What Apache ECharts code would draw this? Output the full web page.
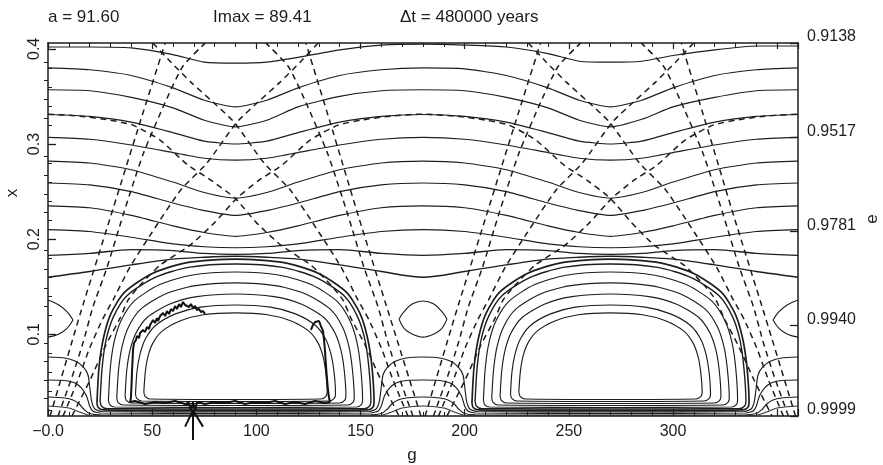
<!DOCTYPE html>
<html>
<head>
<meta charset="utf-8">
<script src="https://cdn.jsdelivr.net/npm/echarts@6/dist/echarts.min.js"></script>
<style>html,body{margin:0;padding:0;background:#fff}#chart{width:883px;height:465px}</style>
</head>
<body>
<div id="chart"></div>
<script>
// ---- right-hand e ticks (x = sqrt(1 - e^2)) ----
const eTicks = [0.9999, 0.9940, 0.9781, 0.9517, 0.9138];
const eTickLabels = ['0.9999', '0.9940', '0.9781', '0.9517', '0.9138'];
const xTicks = [0.1, 0.2, 0.3, 0.4];
const gTicks = [0, 50, 100, 150, 200, 250, 300, 350];

// ---- circulating level curves, sampled on a common g grid ----
const gGrid = [0,20,40,60,75,90,105,120,140,160,180,200,220,240,255,270,285,300,320,340,360];
const levelA = [0.402,0.402,0.401,0.394,0.386,0.385,0.386,0.391,0.399,0.404,0.405,0.404,0.402,0.395,0.387,0.386,0.387,0.393,0.399,0.403,0.403];
const levelB = [0.380,0.378,0.372,0.359,0.346,0.339,0.346,0.359,0.372,0.378,0.380,0.379,0.372,0.359,0.346,0.339,0.346,0.359,0.372,0.378,0.380];
const levelC = [0.357,0.356,0.349,0.338,0.325,0.318,0.325,0.339,0.350,0.356,0.357,0.356,0.349,0.338,0.325,0.318,0.326,0.339,0.349,0.356,0.357];
const levelD = [0.331,0.329,0.323,0.312,0.303,0.300,0.303,0.312,0.323,0.329,0.331,0.329,0.323,0.312,0.303,0.300,0.303,0.312,0.323,0.329,0.331];
const levelE = [0.307,0.305,0.299,0.291,0.285,0.283,0.285,0.291,0.299,0.305,0.307,0.305,0.299,0.291,0.285,0.283,0.285,0.291,0.299,0.305,0.307];
const levelF = [0.282,0.280,0.273,0.260,0.249,0.243,0.249,0.260,0.273,0.280,0.282,0.280,0.273,0.260,0.249,0.243,0.249,0.260,0.273,0.280,0.282];
const levelG = [0.259,0.257,0.250,0.238,0.230,0.225,0.230,0.238,0.250,0.257,0.259,0.257,0.250,0.238,0.230,0.225,0.230,0.238,0.250,0.257,0.259];
const levelH = [0.235,0.233,0.225,0.214,0.207,0.203,0.207,0.214,0.225,0.233,0.235,0.233,0.225,0.214,0.207,0.203,0.207,0.214,0.225,0.233,0.235];
const levelI = [0.210,0.208,0.202,0.195,0.192,0.191,0.192,0.195,0.202,0.208,0.210,0.208,0.202,0.195,0.192,0.191,0.192,0.195,0.202,0.208,0.210];
const levelJ = [0.183,0.185,0.189,0.188,0.185,0.184,0.185,0.188,0.189,0.185,0.183,0.185,0.189,0.188,0.185,0.184,0.185,0.188,0.189,0.185,0.183];
const levelK = [0.160,0.166,0.173,0.179,0.181,0.182,0.181,0.179,0.173,0.166,0.160,0.166,0.173,0.179,0.181,0.182,0.181,0.179,0.173,0.166,0.160];

// ---- closed curves of the island around g = 90 (outer to inner) ----
const islandL1 = [[23.5,.0278],[24.5,.0656],[26.6,.0959],[30.2,.1217],[36.8,.1444],[50.1,.1640],[66.7,.1754],[90,.1791],[113.3,.1754],[129.9,.1640],[143.2,.1444],[149.8,.1217],[153.4,.0959],[155.5,.0656],[156.5,.0278],[155.9,.0231],[153.5,.0205],[90,.0199],[26.5,.0205],[24.1,.0231],[23.5,.0278]];
const islandL2 = [[25,.0294],[26,.0655],[27.9,.0944],[31.5,.1189],[38,.1407],[51,.1594],[67.3,.1703],[90,.1739],[112.7,.1703],[129,.1594],[142,.1407],[148.5,.1189],[152.1,.0944],[154,.0655],[155,.0294],[154.4,.0247],[152,.0220],[90,.0215],[28,.0220],[25.6,.0247],[25,.0294]];
const islandL3 = [[29,.0310],[29.9,.0646],[31.7,.0915],[35.1,.1144],[41.2,.1346],[53.4,.1520],[68.7,.1621],[90,.1655],[111.3,.1621],[126.6,.1520],[138.8,.1346],[144.9,.1144],[148.3,.0915],[150.1,.0646],[151,.0310],[150.4,.0262],[148,.0236],[90,.0231],[32,.0236],[29.6,.0262],[29,.0310]];
const islandL4 = [[33,.0331],[33.9,.0633],[35.6,.0875],[38.7,.1080],[44.4,.1262],[55.8,.1419],[70.1,.1509],[90,.1540],[109.9,.1509],[124.2,.1419],[135.6,.1262],[141.3,.1080],[144.4,.0875],[146.1,.0633],[147,.0331],[146.4,.0284],[144,.0257],[90,.0252],[36,.0257],[33.6,.0284],[33,.0331]];
const islandL5 = [[37,.0352],[37.8,.0620],[39.4,.0834],[42.3,.1016],[47.6,.1177],[58.2,.1316],[71.5,.1396],[90,.1424],[108.5,.1396],[121.8,.1316],[132.4,.1177],[137.7,.1016],[140.6,.0834],[142.2,.0620],[143,.0352],[142.4,.0305],[140,.0278],[90,.0273],[40,.0278],[37.6,.0305],[37,.0352]];
const islandL6 = [[42,.0373],[42.7,.0607],[44.2,.0794],[46.8,.0953],[51.6,.1093],[61.2,.1215],[73.2,.1285],[90,.1308],[106.8,.1285],[118.8,.1215],[128.4,.1093],[133.2,.0953],[135.8,.0794],[137.3,.0607],[138,.0373],[137.4,.0326],[135,.0299],[90,.0294],[45,.0299],[42.6,.0326],[42,.0373]];
const islandL7 = [[46,.0394],[46.7,.0602],[48,.0768],[50.4,.0910],[54.8,.1033],[63.6,.1142],[74.6,.1205],[90,.1225],[105.4,.1205],[116.4,.1142],[125.2,.1033],[129.6,.0910],[132,.0768],[133.3,.0602],[134,.0394],[133.4,.0347],[131,.0320],[90,.0315],[49,.0320],[46.6,.0347],[46,.0394]];

// ---- closed curves of the island around g = 270 ----
const islandR1 = [[203.5,.0278],[204.5,.0656],[206.6,.0959],[210.2,.1217],[216.8,.1444],[230.1,.1640],[246.7,.1754],[270,.1791],[293.3,.1754],[309.9,.1640],[323.2,.1444],[329.8,.1217],[333.4,.0959],[335.5,.0656],[336.5,.0278],[335.9,.0231],[333.5,.0205],[270,.0199],[206.5,.0205],[204.1,.0231],[203.5,.0278]];
const islandR2 = [[205,.0294],[206,.0655],[207.9,.0944],[211.5,.1189],[218,.1407],[231,.1594],[247.3,.1703],[270,.1739],[292.7,.1703],[309,.1594],[322,.1407],[328.5,.1189],[332.1,.0944],[334,.0655],[335,.0294],[334.4,.0247],[332,.0220],[270,.0215],[208,.0220],[205.6,.0247],[205,.0294]];
const islandR3 = [[209,.0310],[209.9,.0646],[211.7,.0915],[215.1,.1144],[221.2,.1346],[233.4,.1520],[248.7,.1621],[270,.1655],[291.3,.1621],[306.6,.1520],[318.8,.1346],[324.9,.1144],[328.3,.0915],[330.1,.0646],[331,.0310],[330.4,.0262],[328,.0236],[270,.0231],[212,.0236],[209.6,.0262],[209,.0310]];
const islandR4 = [[213,.0331],[213.9,.0633],[215.6,.0875],[218.7,.1080],[224.4,.1262],[235.8,.1419],[250.1,.1509],[270,.1540],[289.9,.1509],[304.2,.1419],[315.6,.1262],[321.3,.1080],[324.4,.0875],[326.1,.0633],[327,.0331],[326.4,.0284],[324,.0257],[270,.0252],[216,.0257],[213.6,.0284],[213,.0331]];
const islandR5 = [[217,.0352],[217.8,.0620],[219.4,.0834],[222.3,.1016],[227.6,.1177],[238.2,.1316],[251.5,.1396],[270,.1424],[288.5,.1396],[301.8,.1316],[312.4,.1177],[317.7,.1016],[320.6,.0834],[322.2,.0620],[323,.0352],[322.4,.0305],[320,.0278],[270,.0273],[220,.0278],[217.6,.0305],[217,.0352]];
const islandR6 = [[222,.0373],[222.7,.0607],[224.2,.0794],[226.8,.0953],[231.6,.1093],[241.2,.1215],[253.2,.1285],[270,.1308],[286.8,.1285],[298.8,.1215],[308.4,.1093],[313.2,.0953],[315.8,.0794],[317.3,.0607],[318,.0373],[317.4,.0326],[315,.0299],[270,.0294],[225,.0299],[222.6,.0326],[222,.0373]];
const islandR7 = [[226,.0394],[226.7,.0602],[228,.0768],[230.4,.0910],[234.8,.1033],[243.6,.1142],[254.6,.1205],[270,.1225],[285.4,.1205],[296.4,.1142],[305.2,.1033],[309.6,.0910],[312,.0768],[313.3,.0602],[314,.0394],[313.4,.0347],[311,.0320],[270,.0315],[229,.0320],[226.6,.0347],[226,.0394]];

// ---- curves arching under the small islands and running below the large ones ----
const bridge1 = [[0,.0761],[8,.0751],[13,.0719],[17,.0656],[19.2,.0572],[20.2,.0415],[21,.0289],[22.5,.0215],[26,.0189],[90,.0184],[154,.0189],[157.5,.0215],[159,.0289],[159.8,.0415],[160.8,.0572],[163,.0656],[167,.0719],[172,.0751],[180,.0761],[188,.0751],[193,.0719],[197,.0656],[199.2,.0572],[200.2,.0415],[201,.0289],[202.5,.0215],[206,.0189],[270,.0184],[334,.0189],[337.5,.0215],[339,.0289],[339.8,.0415],[340.8,.0572],[343,.0656],[347,.0719],[352,.0751],[360,.0761]];
const bridge2 = [[0,.0520],[8,.0515],[13,.0489],[16,.0436],[18.5,.0352],[20,.0247],[21.5,.0194],[25,.0173],[90,.0168],[155,.0173],[158.5,.0194],[160,.0247],[161.5,.0352],[164,.0436],[167,.0489],[172,.0515],[180,.0520],[188,.0515],[193,.0489],[196,.0436],[198.5,.0352],[200,.0247],[201.5,.0194],[205,.0173],[270,.0168],[335,.0173],[338.5,.0194],[340,.0247],[341.5,.0352],[344,.0436],[347,.0489],[352,.0515],[360,.0520]];
const bridge3 = [[0,.0341],[8,.0331],[12,.0310],[15,.0268],[17.5,.0205],[20,.0168],[25,.0154],[90,.0152],[155,.0154],[160,.0168],[162.5,.0205],[165,.0268],[168,.0310],[172,.0331],[180,.0341],[188,.0331],[192,.0310],[195,.0268],[197.5,.0205],[200,.0168],[205,.0154],[270,.0152],[335,.0154],[340,.0168],[342.5,.0205],[345,.0268],[348,.0310],[352,.0331],[360,.0341]];
const bandLow = [[0,.0247],[10,.0226],[15,.0184],[20,.0150],[90,.0146],[160,.0150],[165,.0184],[170,.0226],[180,.0247],[190,.0226],[195,.0184],[200,.0150],[270,.0146],[340,.0150],[345,.0184],[350,.0226],[360,.0247]];

// ---- small lens-shaped islands at g = 0, 180, 360 ----
const lensMidTop = [[168.5,0.116],[171,0.124],[175,0.132],[180,0.135],[185,0.132],[189,0.124],[191.5,0.116]];
const lensMidBottom = [[168.5,0.116],[171,0.106],[175,0.100],[180,0.097],[185,0.100],[189,0.106],[191.5,0.116]];
const lensLeftTop = [[0,0.136],[5,0.131],[9,0.124],[12,0.115]];
const lensLeftBottom = [[12,0.115],[9,0.106],[5,0.100],[0,0.097]];
const lensRightTop = [[348,0.115],[351,0.124],[355,0.131],[360,0.136]];
const lensRightBottom = [[348,0.115],[351,0.106],[355,0.100],[360,0.097]];

// ---- dashed curves ----
const dashRise1 = [[1,0.014],[15.4,0.121],[29.8,0.222],[44.2,0.323],[56.2,0.406]];
const dashFall1 = [[179,0.014],[163.7,0.121],[149.3,0.222],[135.4,0.323],[123.8,0.406]];
const dashRise2 = [[4.8,0.014],[11.5,0.055],[16.8,0.091],[21.6,0.129],[28.3,0.170],[36,0.225],[45.6,0.289],[57.1,0.348],[64.8,0.382],[75.4,0.406]];
const dashFall2 = [[175.2,0.014],[168.5,0.055],[163.2,0.091],[158.4,0.129],[151.7,0.170],[144,0.225],[134.4,0.289],[122.9,0.348],[115.2,0.382],[104.6,0.406]];
const dashRise3 = [[7.2,0.014],[14.4,0.052],[19.7,0.084],[26,0.115],[31.2,0.136],[39.4,0.171],[49.9,0.207],[63.8,0.252],[76.3,0.280],[90.7,0.323],[101.8,0.346],[111.4,0.365],[121,0.386],[129.6,0.406]];
const dashFall3 = [[172.8,0.014],[165.6,0.052],[160.3,0.084],[154.1,0.115],[148.8,0.136],[140.6,0.171],[130.1,0.207],[116.2,0.252],[103.7,0.280],[89.3,0.323],[78.2,0.346],[68.6,0.365],[59,0.386],[50.4,0.406]];
const dashRise1b = [[181,0.014],[195.6,0.121],[210,0.222],[224.4,0.323],[236.4,0.406]];
const dashFall1b = [[358.8,0.014],[343.9,0.121],[329.5,0.222],[315.6,0.323],[304,0.406]];
const dashRise2b = [[185,0.014],[191.7,0.055],[197,0.091],[201.8,0.129],[208.5,0.170],[216.2,0.225],[225.8,0.289],[237.3,0.348],[245,0.382],[255.6,0.406]];
const dashFall2b = [[355.4,0.014],[348.7,0.055],[343.4,0.091],[338.6,0.129],[331.9,0.170],[324.2,0.225],[314.6,0.289],[303.1,0.348],[295.4,0.382],[284.8,0.406]];
const dashRise3b = [[187.4,0.014],[194.6,0.052],[199.9,0.084],[206.2,0.115],[211.4,0.136],[219.6,0.171],[230.1,0.207],[244,0.252],[256.5,0.280],[270.9,0.323],[282,0.346],[291.6,0.365],[301.2,0.386],[309.8,0.406]];
const dashFall3b = [[353,0.014],[345.8,0.052],[340.5,0.084],[334.3,0.115],[329,0.136],[320.8,0.171],[310.3,0.207],[296.4,0.252],[283.9,0.280],[269.5,0.323],[258.4,0.346],[248.8,0.365],[239.2,0.386],[230.6,0.406]];
const dashArchLeft = [[0,.3314],[15.4,.3293],[29.8,.3251],[40.8,.3198],[53.8,.3041],[67.2,.2778],[78.2,.2620],[89.8,.2431],[99.8,.2179],[111.8,.1937],[126.2,.1727],[135.8,.1517],[141.6,.1359],[145.4,.1170],[152.2,.0888],[159.8,.0520],[168.5,.0141]];
const dashArchMid = [[11.5,.0141],[20.2,.0520],[27.8,.0888],[34.6,.1170],[38.4,.1359],[44.2,.1517],[53.8,.1727],[68.2,.1937],[80.2,.2179],[90.7,.2431],[101.3,.2620],[112.3,.2778],[125.8,.3041],[139.2,.3198],[150.2,.3251],[164.2,.3293],[180,.3314],[195.8,.3293],[210.2,.3251],[221.3,.3198],[234.2,.3041],[247.7,.2778],[258.7,.2620],[269.8,.2431],[279.9,.2179],[291,.1937],[305.3,.1727],[314.9,.1517],[320.6,.1359],[324.5,.1170],[331.2,.0888],[338.9,.0520],[347.5,.0141]];
const dashArchRight = [[191.5,.0141],[200.2,.0520],[207.8,.0888],[214.6,.1170],[218.4,.1359],[224.2,.1517],[233.8,.1727],[248.2,.1937],[260.2,.2179],[270.7,.2431],[281.3,.2620],[292.3,.2778],[305.8,.3041],[319.2,.3198],[330.2,.3251],[344.2,.3293],[360,.3314]];

// ---- integrated orbit ----
const orbitRise = [[39.4,.0289],[39.8,.0331],[40.1,.0467],[40.3,.0604],[40.6,.0730],[40.8,.0835],[41.3,.0909],[42.2,.0940],[42.7,.0982],[43.7,.0961],[44.2,.1014],[45.1,.0993],[45.6,.1045],[46.6,.1024],[47.5,.1077],[48.5,.1056],[49,.1098],[49.9,.1087],[50.4,.1150],[51.4,.1119],[52.3,.1171],[52.8,.1140],[53.8,.1192],[54.7,.1171],[55.2,.1224],[56.2,.1192],[57.1,.1245],[58.1,.1213],[59,.1266],[60,.1245],[61,.1297],[61.9,.1266],[62.9,.1318],[63.8,.1287],[64.8,.1340],[65.8,.1308],[66.7,.1329],[67.7,.1287],[68.6,.1318],[69.6,.1276],[70.6,.1297],[71.5,.1255],[72.5,.1266],[73.4,.1234],[74.4,.1245],[75.4,.1213]];
const orbitFall = [[126.2,.1046],[127.2,.1098],[128.2,.1129],[129.1,.1108],[130.1,.1140],[131,.1087],[132,.1035],[132.5,.0940],[133,.0814],[133.4,.0678],[133.9,.0541],[134.4,.0415],[134.9,.0331],[135.4,.0289]];
const orbitBase = [[135.4,.0289],[133,.0278],[128.2,.0299],[123.4,.0268],[118.6,.0289],[113.8,.0268],[109,.0299],[104.2,.0278],[99.4,.0289],[94.6,.0268],[89.8,.0299],[85,.0278],[80.2,.0289],[75.4,.0268],[71.5,.0289],[70.6,.0205],[69.6,.0285],[68.6,.0200],[67.7,.0280],[65.8,.0268],[61,.0299],[56.2,.0278],[51.4,.0289],[46.6,.0268],[41.8,.0299],[39.4,.0289]];

// ---- marker arrow under the axis ----
const arrowShaft = [[69.6,-0.011],[69.6,0.020]];
const arrowHead = [[65.8,0.003],[69.6,0.020],[74.4,0.003]];

// ---------------------------------------------------------------
const INK = '#1d1d1d';
const FONT = '"Liberation Sans", Arial, Helvetica, sans-serif';
const ePos = eTicks.map(e => Math.sqrt(1 - e * e));
const yMin = ePos[0], yMax = ePos[ePos.length - 1];

const xMinor = [];
for (let k = 1; k <= 20; k++) {
  if (k % 5 !== 0) xMinor.push(k * 0.02);
}
const eMinor = [];
for (let i = 0; i < ePos.length - 1; i++) {
  for (let k = 1; k < 5; k++) eMinor.push(ePos[i] + (ePos[i + 1] - ePos[i]) * k / 5);
}

const series = [];
function line(data, opt) {
  series.push(Object.assign({
    type: 'line', data: data, symbol: 'none', showSymbol: false,
    smooth: 0.3, silent: true, animation: false, z: 3,
    lineStyle: { color: INK, width: 1.15 }
  }, opt || {}));
}
function onGrid(vals) { return gGrid.map((g, i) => [g, vals[i]]); }

[levelA, levelB, levelC, levelD, levelE, levelF, levelG, levelH, levelI].forEach(v => line(onGrid(v), { smooth: 0.2 }));
[levelJ, levelK].forEach(v => line(onGrid(v), { smooth: 0.3, lineStyle: { color: INK, width: 1.35 } }));

[islandL1, islandR1].forEach(d => line(d, { smooth: 0.25, lineStyle: { color: INK, width: 1.7 } }));
[islandL2, islandR2].forEach(d => line(d, { smooth: 0.25, lineStyle: { color: INK, width: 1.4 } }));
[islandL3, islandL4, islandL5, islandL6, islandL7,
 islandR3, islandR4, islandR5, islandR6, islandR7].forEach(d => line(d, { smooth: 0.25 }));

[bridge1, bridge2, bridge3].forEach(d => line(d, { smooth: 0.2 }));
line(bandLow, { smooth: 0.25, lineStyle: { color: '#333', width: 1.1 } });

[lensMidTop, lensMidBottom, lensLeftTop, lensLeftBottom, lensRightTop, lensRightBottom].forEach(d => line(d, { smooth: 0.4 }));

const dashStyle = { color: INK, width: 1.5, type: [6, 4.5] };
[dashRise1, dashFall1, dashRise2, dashFall2, dashRise3, dashFall3,
 dashRise1b, dashFall1b, dashRise2b, dashFall2b, dashRise3b, dashFall3b,
 dashArchLeft, dashArchMid, dashArchRight].forEach(d => line(d, { smooth: 0.2, z: 4, lineStyle: dashStyle }));

[orbitRise, orbitFall, orbitBase].forEach(d => line(d, { smooth: false, z: 5, lineStyle: { color: '#111', width: 2 } }));
line(arrowShaft, { smooth: false, clip: false, z: 6, lineStyle: { color: '#111', width: 2 } });
line(arrowHead, { smooth: false, clip: false, z: 6, lineStyle: { color: '#111', width: 2 } });

const axisLine = { show: true, onZero: false, lineStyle: { color: INK, width: 1.5 } };
const chart = echarts.init(document.getElementById('chart'), null, { renderer: 'canvas' });
chart.setOption({
  backgroundColor: '#ffffff',
  animation: false,
  grid: { left: 48, right: 85, top: 43, bottom: 49, containLabel: false },
  xAxis: [
    { type: 'value', position: 'bottom', min: 0, max: 360, interval: 50,
      axisLine: axisLine,
      axisTick: { show: true, inside: true, length: 7, lineStyle: { color: INK, width: 1.2 } },
      minorTick: { show: true, splitNumber: 5, length: 4, lineStyle: { color: INK, width: 1 } },
      axisLabel: { show: true, margin: 8, fontSize: 16, color: INK, fontFamily: FONT, showMaxLabel: false,
        customValues: gTicks,
        formatter: v => (v === 0 ? '\u22120.0' : String(v)) },
      splitLine: { show: false } },
    { type: 'value', position: 'top', min: 0, max: 360, interval: 50,
      axisLine: axisLine,
      axisTick: { show: true, inside: true, length: 6, lineStyle: { color: INK, width: 1.2 } },
      minorTick: { show: true, splitNumber: 5, length: 4, lineStyle: { color: INK, width: 1 } },
      axisLabel: { show: false }, splitLine: { show: false } }
  ],
  yAxis: [
    { type: 'value', position: 'left', min: yMin, max: yMax,
      axisLine: axisLine,
      axisTick: { show: true, inside: true, length: 8, customValues: xTicks, lineStyle: { color: INK, width: 1.3 } },
      axisLabel: { show: true, rotate: 90, margin: 5, fontSize: 16, color: INK, fontFamily: FONT,
        customValues: xTicks, formatter: v => v.toFixed(1) },
      splitLine: { show: false } },
    { type: 'value', position: 'left', min: yMin, max: yMax,
      axisLine: { show: false },
      axisTick: { show: true, inside: true, length: 4, customValues: xMinor, lineStyle: { color: INK, width: 1 } },
      axisLabel: { show: false }, splitLine: { show: false } },
    { type: 'value', position: 'right', min: yMin, max: yMax,
      axisLine: axisLine,
      axisTick: { show: true, inside: true, length: 8, customValues: ePos, lineStyle: { color: INK, width: 1.3 } },
      axisLabel: { show: true, margin: 9, fontSize: 16, color: INK, fontFamily: FONT,
        verticalAlign: 'bottom', lineHeight: 12, customValues: ePos,
        formatter: v => { let best = 0; ePos.forEach((p, i) => { if (Math.abs(p - v) < Math.abs(ePos[best] - v)) best = i; }); return eTickLabels[best]; } },
      splitLine: { show: false } },
    { type: 'value', position: 'right', min: yMin, max: yMax,
      axisLine: { show: false },
      axisTick: { show: true, inside: true, length: 4, customValues: eMinor, lineStyle: { color: INK, width: 1 } },
      axisLabel: { show: false }, splitLine: { show: false } }
  ],
  graphic: [
    { type: 'text', left: 48, top: 9, style: { text: 'a = 91.60', font: '17px ' + FONT, fill: INK } },
    { type: 'text', left: 213, top: 9, style: { text: 'Imax = 89.41', font: '17px ' + FONT, fill: INK } },
    { type: 'text', left: 400, top: 9, style: { text: '\u0394t = 480000 years', font: '17px ' + FONT, fill: INK } },
    { type: 'text', x: 412, y: 455, style: { text: 'g', font: '17px ' + FONT, fill: INK, align: 'center', verticalAlign: 'middle' } },
    { type: 'text', x: 12, y: 193, rotation: Math.PI / 2, style: { text: 'x', font: '17px ' + FONT, fill: INK, align: 'center', verticalAlign: 'middle' } },
    { type: 'text', x: 872, y: 219, rotation: Math.PI / 2, style: { text: 'e', font: '17px ' + FONT, fill: INK, align: 'center', verticalAlign: 'middle' } }
  ],
  series: series
});
</script>
</body>
</html>
